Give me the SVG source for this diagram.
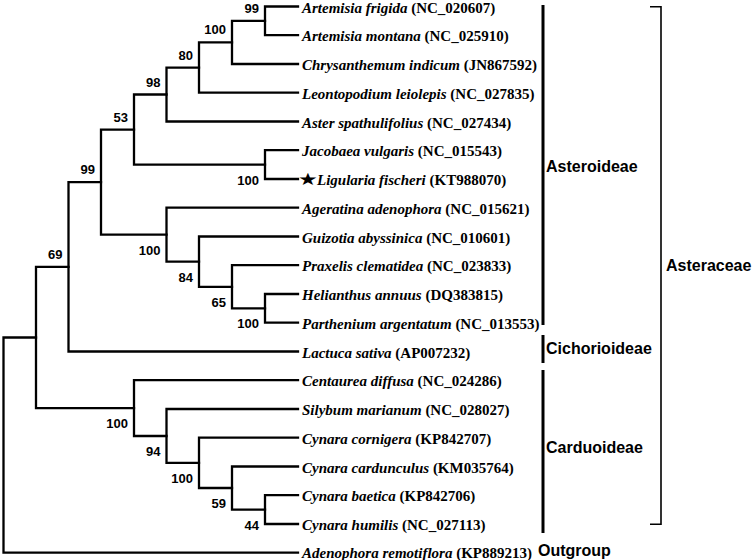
<svg xmlns="http://www.w3.org/2000/svg" width="755" height="560" viewBox="0 0 755 560">
<style>
.br{fill:none;stroke:#000;stroke-width:2.3;stroke-linejoin:miter;stroke-linecap:square}
.bs{font-family:"Liberation Sans",Arial,sans-serif;font-weight:bold;font-size:13px;fill:#000;text-anchor:end}
.sp{font-family:"Liberation Serif","Times New Roman",serif;font-weight:bold;font-size:15px;fill:#000}
.sp .i{font-style:italic}
.cl{font-family:"Liberation Sans",Arial,sans-serif;font-weight:bold;font-size:16px;fill:#000}
.bar{stroke:#000;stroke-width:3;fill:none}
.brk{stroke:#000;stroke-width:1.6;fill:none}
</style>
<rect width="755" height="560" fill="#fff"/>
<g id="connectors">
<path class="br" d="M298 6.5 H265 V35.2 H298"/>
<path class="br" d="M265 20.85 H232 V64 H298"/>
<path class="br" d="M232 42.4 H199 V92.7 H298"/>
<path class="br" d="M199 67.6 H166.5 V121.5 H298"/>
<path class="br" d="M298 150.2 H265 V179 H298"/>
<path class="br" d="M166.5 94.5 H134 V164.6 H265"/>
<path class="br" d="M298 294 H265 V322.7 H298"/>
<path class="br" d="M298 265.2 H232 V308.4 H265"/>
<path class="br" d="M298 236.5 H199 V286.8 H232"/>
<path class="br" d="M298 207.7 H166.5 V261.6 H199"/>
<path class="br" d="M134 129.6 H101 V234.7 H166.5"/>
<path class="br" d="M101 182.1 H68.5 V351.5 H298"/>
<path class="br" d="M298 495.2 H265 V524 H298"/>
<path class="br" d="M298 466.5 H232 V509.6 H265"/>
<path class="br" d="M298 437.7 H199 V488 H232"/>
<path class="br" d="M298 409 H166.5 V462.9 H199"/>
<path class="br" d="M298 380.2 H134 V436 H166.5"/>
<path class="br" d="M68.5 266.8 H36 V408.1 H134"/>
<path class="br" d="M36 337.5 H3.5 V552.7 H298"/>
</g>
<g id="bootstrap">
<text class="bs" x="259" y="12.9">99</text>
<text class="bs" x="226" y="34.4">100</text>
<text class="bs" x="193" y="59.6">80</text>
<text class="bs" x="160.5" y="86.5">98</text>
<text class="bs" x="128" y="121.6">53</text>
<text class="bs" x="95" y="174.1">99</text>
<text class="bs" x="62.5" y="258.8">69</text>
<text class="bs" x="259" y="184.6">100</text>
<text class="bs" x="160.5" y="254.7">100</text>
<text class="bs" x="193" y="281.6">84</text>
<text class="bs" x="226" y="306.8">65</text>
<text class="bs" x="259" y="328.4">100</text>
<text class="bs" x="128" y="428.1">100</text>
<text class="bs" x="160.5" y="456">94</text>
<text class="bs" x="193" y="482.9">100</text>
<text class="bs" x="226" y="508">59</text>
<text class="bs" x="259" y="529.6">44</text>
</g>
<g id="taxa">
<g id="t0"><text class="sp" x="302" y="12.5"><tspan class="i">Artemisia frigida</tspan> (NC_020607)</text></g>
<g id="t1"><text class="sp" x="302" y="41.2"><tspan class="i">Artemisia montana</tspan> (NC_025910)</text></g>
<g id="t2"><text class="sp" x="302" y="70"><tspan class="i">Chrysanthemum indicum</tspan> (JN867592)</text></g>
<g id="t3"><text class="sp" x="302" y="98.7"><tspan class="i">Leontopodium leiolepis</tspan> (NC_027835)</text></g>
<g id="t4"><text class="sp" x="302" y="127.5"><tspan class="i">Aster spathulifolius</tspan> (NC_027434)</text></g>
<g id="t5"><text class="sp" x="302" y="156.2"><tspan class="i">Jacobaea vulgaris</tspan> (NC_015543)</text></g>
<g id="t6"><text transform="translate(298,184.5) scale(1.05,0.8)" style="font-family:'DejaVu Sans',sans-serif;font-size:21px;fill:#000">★</text><text class="sp" x="317" y="185"><tspan class="i">Ligularia fischeri</tspan> (KT988070)</text></g>
<g id="t7"><text class="sp" x="302" y="213.7"><tspan class="i">Ageratina adenophora</tspan> (NC_015621)</text></g>
<g id="t8"><text class="sp" x="302" y="242.5"><tspan class="i">Guizotia abyssinica</tspan> (NC_010601)</text></g>
<g id="t9"><text class="sp" x="302" y="271.2"><tspan class="i">Praxelis clematidea</tspan> (NC_023833)</text></g>
<g id="t10"><text class="sp" x="302" y="300"><tspan class="i">Helianthus annuus</tspan> (DQ383815)</text></g>
<g id="t11"><text class="sp" x="302" y="328.7"><tspan class="i">Parthenium argentatum</tspan> (NC_013553)</text></g>
<g id="t12"><text class="sp" x="302" y="357.5"><tspan class="i">Lactuca sativa</tspan> (AP007232)</text></g>
<g id="t13"><text class="sp" x="302" y="386.2"><tspan class="i">Centaurea diffusa</tspan> (NC_024286)</text></g>
<g id="t14"><text class="sp" x="302" y="415"><tspan class="i">Silybum marianum</tspan> (NC_028027)</text></g>
<g id="t15"><text class="sp" x="302" y="443.7"><tspan class="i">Cynara cornigera</tspan> (KP842707)</text></g>
<g id="t16"><text class="sp" x="302" y="472.5"><tspan class="i">Cynara cardunculus</tspan> (KM035764)</text></g>
<g id="t17"><text class="sp" x="302" y="501.2"><tspan class="i">Cynara baetica</tspan> (KP842706)</text></g>
<g id="t18"><text class="sp" x="302" y="530"><tspan class="i">Cynara humilis</tspan> (NC_027113)</text></g>
<g id="t19"><text class="sp" x="302" y="558.2"><tspan class="i">Adenophora remotiflora</tspan> (KP889213)</text></g>
</g>
<g id="clades">
<g id="asteroideae"><line class="bar" x1="543" y1="5" x2="543" y2="325"/><text class="cl" x="546" y="172">Asteroideae</text></g>
<g id="cichorioideae"><line class="bar" x1="543" y1="335" x2="543" y2="363"/><text class="cl" x="546" y="354">Cichorioideae</text></g>
<g id="carduoideae"><line class="bar" x1="543" y1="370" x2="543" y2="533"/><text class="cl" x="546" y="453">Carduoideae</text></g>
<g id="outgroup"><text class="cl" x="538" y="556">Outgroup</text></g>
<g id="asteraceae"><path class="brk" d="M650 6.7 H661 V524.3 H650"/><text class="cl" x="666" y="271">Asteraceae</text></g>
</g>
</svg>
